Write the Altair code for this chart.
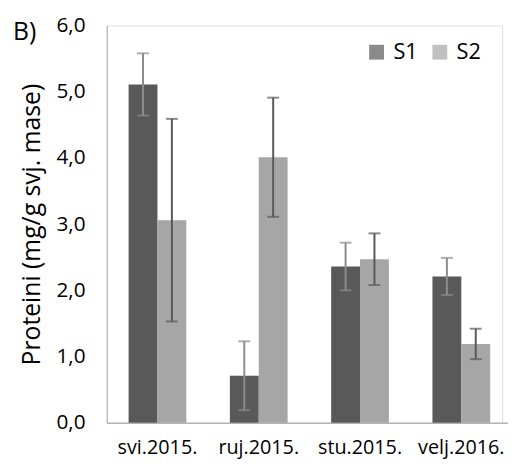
import altair as alt
import pandas as pd

months = ["svi.2015.", "ruj.2015.", "stu.2015.", "velj.2016."]
series = ["S1", "S2"]
s1_mean = [5.11, 0.71, 2.36, 2.21]
s1_err = [0.47, 0.52, 0.36, 0.28]
s2_mean = [3.06, 4.01, 2.47, 1.19]
s2_err = [1.53, 0.90, 0.39, 0.23]
y_ticks = [0, 1, 2, 3, 4, 5, 6]

rows = []
for i, m in enumerate(months):
    rows.append({"month": m, "series": "S1", "value": s1_mean[i], "err": s1_err[i]})
    rows.append({"month": m, "series": "S2", "value": s2_mean[i], "err": s2_err[i]})
df = pd.DataFrame(rows)

FONT = "Open Sans"

x = alt.X("month:N", sort=months,
          scale=alt.Scale(paddingInner=0.43, paddingOuter=0.215, range=[0, 410]),
          axis=alt.Axis(title=None, labelAngle=0, ticks=False, labelFontSize=20,
                        labelFont=FONT, labelColor="#000000", labelPadding=15,
                        domainColor="#b3b3b3", domainWidth=1.5))
xo = alt.XOffset("series:N", sort=series, scale=alt.Scale(paddingInner=0, paddingOuter=0))
y_scale = alt.Scale(domain=[0, 6], nice=False)

base = alt.Chart(df)

bars = base.mark_bar().encode(
    x=x, xOffset=xo,
    y=alt.Y("value:Q", scale=y_scale,
            axis=alt.Axis(title="Proteini (mg/g svj. mase)", values=y_ticks, grid=False,
                          ticks=False, labelExpr="replace(format(datum.value, '.1f'), '.', ',')",
                          labelFontSize=21, labelFont=FONT, labelColor="#000000",
                          labelPadding=22, titleFontSize=25, titleFont=FONT,
                          titleFontWeight="normal", titleColor="#000000", titlePadding=12,
                          domainColor="#bfbfbf", domainWidth=1.5)),
    color=alt.Color("series:N", sort=series,
                    scale=alt.Scale(domain=series, range=["#595959", "#a6a6a6"]),
                    legend=alt.Legend(title=None, orient="none", legendX=262, legendY=16,
                                      direction="horizontal", symbolType="square",
                                      symbolSize=225, symbolStrokeWidth=0, labelFontSize=22,
                                      labelFont=FONT, labelColor="#000000", columnPadding=11,
                                      labelOffset=6, symbolOpacity=1)),
)

err = base.transform_calculate(
    lo="datum.value - datum.err", hi="datum.value + datum.err",
    ecol="datum.series == 'S1' ? '#8c8c8c' : '#595959'")

rules = err.mark_rule(strokeWidth=2).encode(
    x=x, xOffset=xo, y=alt.Y("lo:Q", scale=y_scale), y2="hi:Q",
    color=alt.Color("ecol:N", scale=None))
caps_hi = err.mark_tick(thickness=2, size=12).encode(
    x=x, xOffset=xo, y=alt.Y("hi:Q", scale=y_scale), color=alt.Color("ecol:N", scale=None))
caps_lo = err.mark_tick(thickness=2, size=12).encode(
    x=x, xOffset=xo, y=alt.Y("lo:Q", scale=y_scale), color=alt.Color("ecol:N", scale=None))

label = alt.Chart(pd.DataFrame({"t": ["B)"]})).mark_text(
    font=FONT, fontSize=25, align="left", baseline="middle", color="#000000").encode(
    text="t:N", x=alt.value(-95), y=alt.value(7))

chart = alt.layer(bars, rules, caps_hi, caps_lo, label).properties(
    width=400, height=402,
    autosize=alt.AutoSizeParams(type="none"),
    padding={"left": 100, "top": 15, "right": 6, "bottom": 35},
).configure_view(stroke=None).configure(background="white")

chart.save("out.html", embed_options={"renderer": "svg", "actions": False})
